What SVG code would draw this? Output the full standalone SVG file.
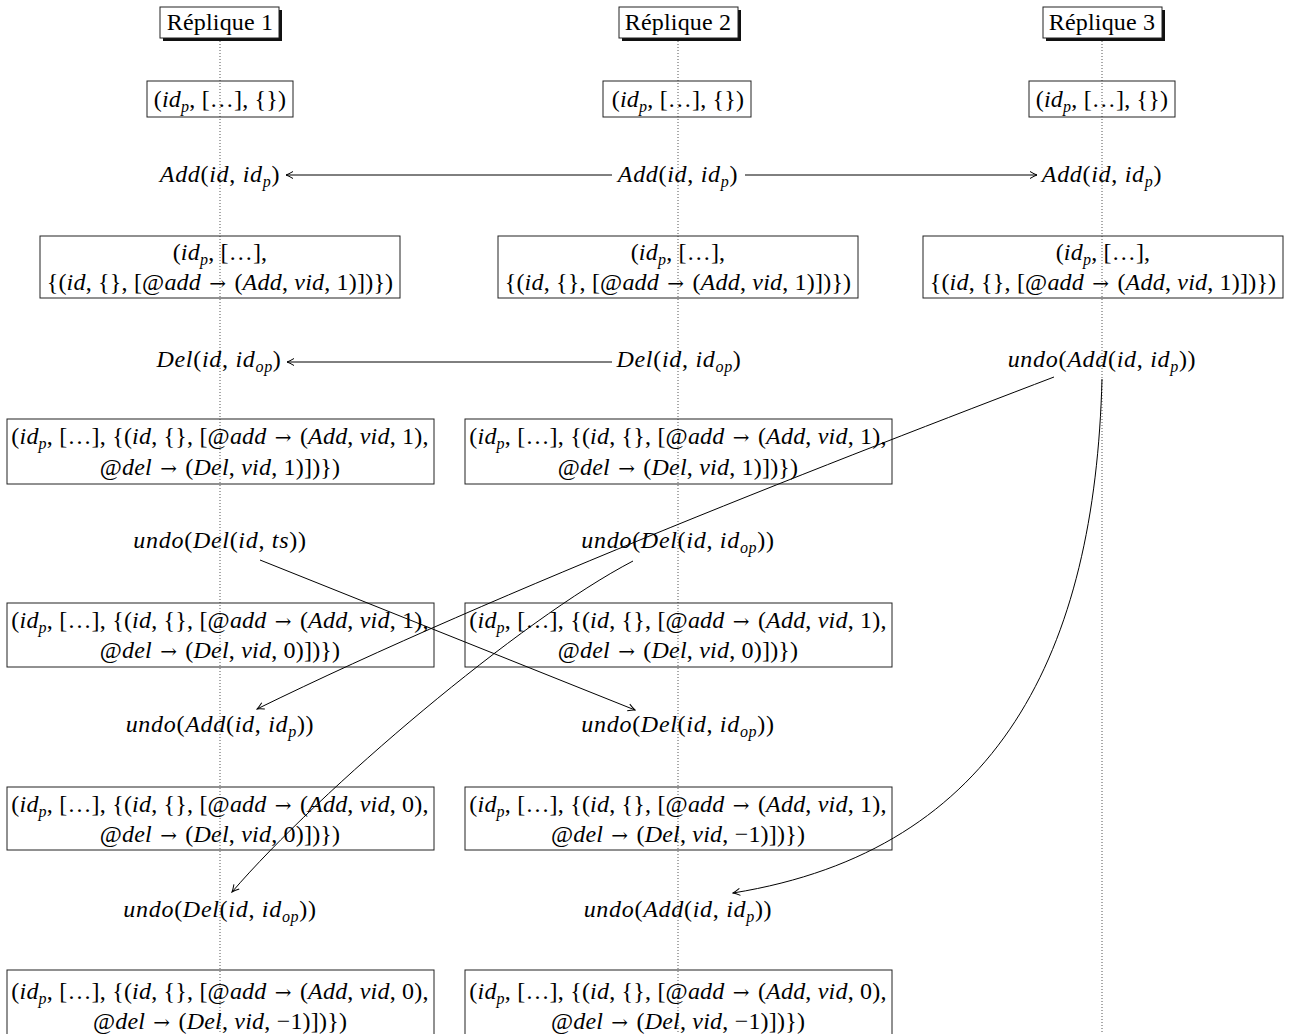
<svg xmlns="http://www.w3.org/2000/svg" width="1293" height="1034" viewBox="0 0 1293 1034">
<style>
text{font-family:"Liberation Serif",serif;font-size:24px;fill:#000;text-anchor:middle;letter-spacing:0.2px}
.lab{letter-spacing:0.7px}
.i{font-style:italic}
.sb{font-style:italic;font-size:16px}
.ar{font-family:"DejaVu Serif",serif;font-size:20px}
.box{fill:none;stroke:#222;stroke-width:1}
.hdr{fill:#fff;stroke:#222;stroke-width:1}
.sh{fill:#111}
.life{stroke:#555;stroke-width:1;stroke-dasharray:1 2}
.c{fill:none;stroke:#000;stroke-width:1}
</style>
<defs>
<marker id="ah" markerUnits="userSpaceOnUse" viewBox="-9 -5 10 10" markerWidth="10" markerHeight="10" refX="0" refY="0" orient="auto">
<path d="M-7,-3.5 Q-2.5,-0.8 0,0 Q-2.5,0.8 -7,3.5" fill="none" stroke="#000" stroke-width="1"/>
</marker>
</defs>
<rect width="1293" height="1034" fill="#fff"/>
<g id="lifelines">
<line class="life" x1="220" y1="38" x2="220" y2="1034"/>
<line class="life" x1="678" y1="38" x2="678" y2="1034"/>
<line class="life" x1="1102" y1="38" x2="1102" y2="1034"/>
</g>
<g id="h1"><rect class="sh" x="163" y="10" width="119" height="31"/><rect class="hdr" x="160" y="7" width="119" height="31"/><text x="220" y="30">Réplique 1</text></g>
<g id="h2"><rect class="sh" x="622" y="10" width="119" height="31"/><rect class="hdr" x="619" y="7" width="119" height="31"/><text x="678" y="30">Réplique 2</text></g>
<g id="h3"><rect class="sh" x="1046" y="10" width="119" height="31"/><rect class="hdr" x="1043" y="7" width="119" height="31"/><text x="1102" y="30">Réplique 3</text></g>

<g id="s1a"><rect class="box" x="147" y="81" width="146" height="36"/><text x="220" y="107">(<tspan class="i">id</tspan><tspan class="sb" dy="5">p</tspan><tspan dy="-5">, […], {})</tspan></text></g>
<g id="s2a"><rect class="box" x="603" y="81" width="148" height="36"/><text x="678" y="107">(<tspan class="i">id</tspan><tspan class="sb" dy="5">p</tspan><tspan dy="-5">, […], {})</tspan></text></g>
<g id="s3a"><rect class="box" x="1029" y="81" width="146" height="36"/><text x="1102" y="107">(<tspan class="i">id</tspan><tspan class="sb" dy="5">p</tspan><tspan dy="-5">, […], {})</tspan></text></g>

<g id="o1a"><text class="lab" x="220" y="182"><tspan class="i">Add</tspan>(<tspan class="i">id</tspan>, <tspan class="i">id</tspan><tspan class="sb" dy="5">p</tspan><tspan dy="-5">)</tspan></text></g>
<g id="o2a"><text class="lab" x="678" y="182"><tspan class="i">Add</tspan>(<tspan class="i">id</tspan>, <tspan class="i">id</tspan><tspan class="sb" dy="5">p</tspan><tspan dy="-5">)</tspan></text></g>
<g id="o3a"><text class="lab" x="1102" y="182"><tspan class="i">Add</tspan>(<tspan class="i">id</tspan>, <tspan class="i">id</tspan><tspan class="sb" dy="5">p</tspan><tspan dy="-5">)</tspan></text></g>

<g id="s1b"><rect class="box" x="40" y="236" width="360" height="62"/><text x="220" y="260">(<tspan class="i">id</tspan><tspan class="sb" dy="5">p</tspan><tspan dy="-5">, […],</tspan></text><text x="220" y="290">{(<tspan class="i">id</tspan>, {}, [@<tspan class="i">add</tspan> <tspan class="ar" dx="2">→</tspan> <tspan dx="2">(</tspan><tspan class="i">Add</tspan>, <tspan class="i">vid</tspan>, 1)])})</text></g>
<g id="s2b"><rect class="box" x="498" y="236" width="360" height="62"/><text x="678" y="260">(<tspan class="i">id</tspan><tspan class="sb" dy="5">p</tspan><tspan dy="-5">, […],</tspan></text><text x="678" y="290">{(<tspan class="i">id</tspan>, {}, [@<tspan class="i">add</tspan> <tspan class="ar" dx="2">→</tspan> <tspan dx="2">(</tspan><tspan class="i">Add</tspan>, <tspan class="i">vid</tspan>, 1)])})</text></g>
<g id="s3b"><rect class="box" x="923" y="236" width="360" height="62"/><text x="1103" y="260">(<tspan class="i">id</tspan><tspan class="sb" dy="5">p</tspan><tspan dy="-5">, […],</tspan></text><text x="1103" y="290">{(<tspan class="i">id</tspan>, {}, [@<tspan class="i">add</tspan> <tspan class="ar" dx="2">→</tspan> <tspan dx="2">(</tspan><tspan class="i">Add</tspan>, <tspan class="i">vid</tspan>, 1)])})</text></g>

<g id="o1b"><text class="lab" x="219" y="367"><tspan class="i">Del</tspan>(<tspan class="i">id</tspan>, <tspan class="i">id</tspan><tspan class="sb" dy="5">op</tspan><tspan dy="-5">)</tspan></text></g>
<g id="o2b"><text class="lab" x="679" y="367"><tspan class="i">Del</tspan>(<tspan class="i">id</tspan>, <tspan class="i">id</tspan><tspan class="sb" dy="5">op</tspan><tspan dy="-5">)</tspan></text></g>
<g id="o3b"><text class="lab" x="1102" y="367"><tspan class="i">undo</tspan>(<tspan class="i">Add</tspan>(<tspan class="i">id</tspan>, <tspan class="i">id</tspan><tspan class="sb" dy="5">p</tspan><tspan dy="-5">))</tspan></text></g>

<g id="s1c"><rect class="box" x="7" y="419" width="427" height="65"/><text x="220" y="444">(<tspan class="i">id</tspan><tspan class="sb" dy="5">p</tspan><tspan dy="-5">, […], {(</tspan><tspan class="i">id</tspan>, {}, [@<tspan class="i">add</tspan> <tspan class="ar" dx="2">→</tspan> <tspan dx="2">(</tspan><tspan class="i">Add</tspan>, <tspan class="i">vid</tspan>, 1),</text><text x="220" y="475">@<tspan class="i">del</tspan> <tspan class="ar" dx="2">→</tspan> <tspan dx="2">(</tspan><tspan class="i">Del</tspan>, <tspan class="i">vid</tspan>, 1)])})</text></g>
<g id="s2c"><rect class="box" x="465" y="419" width="427" height="65"/><text x="678" y="444">(<tspan class="i">id</tspan><tspan class="sb" dy="5">p</tspan><tspan dy="-5">, […], {(</tspan><tspan class="i">id</tspan>, {}, [@<tspan class="i">add</tspan> <tspan class="ar" dx="2">→</tspan> <tspan dx="2">(</tspan><tspan class="i">Add</tspan>, <tspan class="i">vid</tspan>, 1),</text><text x="678" y="475">@<tspan class="i">del</tspan> <tspan class="ar" dx="2">→</tspan> <tspan dx="2">(</tspan><tspan class="i">Del</tspan>, <tspan class="i">vid</tspan>, 1)])})</text></g>

<g id="o1c"><text class="lab" x="220" y="548"><tspan class="i">undo</tspan>(<tspan class="i">Del</tspan>(<tspan class="i">id</tspan>, <tspan class="i">ts</tspan>))</text></g>
<g id="o2c"><text class="lab" x="678" y="548"><tspan class="i">undo</tspan>(<tspan class="i">Del</tspan>(<tspan class="i">id</tspan>, <tspan class="i">id</tspan><tspan class="sb" dy="5">op</tspan><tspan dy="-5">))</tspan></text></g>

<g id="s1d"><rect class="box" x="7" y="603" width="427" height="64"/><text x="220" y="628">(<tspan class="i">id</tspan><tspan class="sb" dy="5">p</tspan><tspan dy="-5">, […], {(</tspan><tspan class="i">id</tspan>, {}, [@<tspan class="i">add</tspan> <tspan class="ar" dx="2">→</tspan> <tspan dx="2">(</tspan><tspan class="i">Add</tspan>, <tspan class="i">vid</tspan>, 1),</text><text x="220" y="658">@<tspan class="i">del</tspan> <tspan class="ar" dx="2">→</tspan> <tspan dx="2">(</tspan><tspan class="i">Del</tspan>, <tspan class="i">vid</tspan>, 0)])})</text></g>
<g id="s2d"><rect class="box" x="465" y="603" width="427" height="64"/><text x="678" y="628">(<tspan class="i">id</tspan><tspan class="sb" dy="5">p</tspan><tspan dy="-5">, […], {(</tspan><tspan class="i">id</tspan>, {}, [@<tspan class="i">add</tspan> <tspan class="ar" dx="2">→</tspan> <tspan dx="2">(</tspan><tspan class="i">Add</tspan>, <tspan class="i">vid</tspan>, 1),</text><text x="678" y="658">@<tspan class="i">del</tspan> <tspan class="ar" dx="2">→</tspan> <tspan dx="2">(</tspan><tspan class="i">Del</tspan>, <tspan class="i">vid</tspan>, 0)])})</text></g>

<g id="o1d"><text class="lab" x="220" y="732"><tspan class="i">undo</tspan>(<tspan class="i">Add</tspan>(<tspan class="i">id</tspan>, <tspan class="i">id</tspan><tspan class="sb" dy="5">p</tspan><tspan dy="-5">))</tspan></text></g>
<g id="o2d"><text class="lab" x="678" y="732"><tspan class="i">undo</tspan>(<tspan class="i">Del</tspan>(<tspan class="i">id</tspan>, <tspan class="i">id</tspan><tspan class="sb" dy="5">op</tspan><tspan dy="-5">))</tspan></text></g>

<g id="s1e"><rect class="box" x="7" y="787" width="427" height="63"/><text x="220" y="812">(<tspan class="i">id</tspan><tspan class="sb" dy="5">p</tspan><tspan dy="-5">, […], {(</tspan><tspan class="i">id</tspan>, {}, [@<tspan class="i">add</tspan> <tspan class="ar" dx="2">→</tspan> <tspan dx="2">(</tspan><tspan class="i">Add</tspan>, <tspan class="i">vid</tspan>, 0),</text><text x="220" y="842">@<tspan class="i">del</tspan> <tspan class="ar" dx="2">→</tspan> <tspan dx="2">(</tspan><tspan class="i">Del</tspan>, <tspan class="i">vid</tspan>, 0)])})</text></g>
<g id="s2e"><rect class="box" x="465" y="787" width="427" height="63"/><text x="678" y="812">(<tspan class="i">id</tspan><tspan class="sb" dy="5">p</tspan><tspan dy="-5">, […], {(</tspan><tspan class="i">id</tspan>, {}, [@<tspan class="i">add</tspan> <tspan class="ar" dx="2">→</tspan> <tspan dx="2">(</tspan><tspan class="i">Add</tspan>, <tspan class="i">vid</tspan>, 1),</text><text x="678" y="842">@<tspan class="i">del</tspan> <tspan class="ar" dx="2">→</tspan> <tspan dx="2">(</tspan><tspan class="i">Del</tspan>, <tspan class="i">vid</tspan>, −1)])})</text></g>

<g id="o1e"><text class="lab" x="220" y="917"><tspan class="i">undo</tspan>(<tspan class="i">Del</tspan>(<tspan class="i">id</tspan>, <tspan class="i">id</tspan><tspan class="sb" dy="5">op</tspan><tspan dy="-5">))</tspan></text></g>
<g id="o2e"><text class="lab" x="678" y="917"><tspan class="i">undo</tspan>(<tspan class="i">Add</tspan>(<tspan class="i">id</tspan>, <tspan class="i">id</tspan><tspan class="sb" dy="5">p</tspan><tspan dy="-5">))</tspan></text></g>

<g id="s1f"><rect class="box" x="7" y="970" width="427" height="70"/><text x="220" y="999">(<tspan class="i">id</tspan><tspan class="sb" dy="5">p</tspan><tspan dy="-5">, […], {(</tspan><tspan class="i">id</tspan>, {}, [@<tspan class="i">add</tspan> <tspan class="ar" dx="2">→</tspan> <tspan dx="2">(</tspan><tspan class="i">Add</tspan>, <tspan class="i">vid</tspan>, 0),</text><text x="220" y="1029">@<tspan class="i">del</tspan> <tspan class="ar" dx="2">→</tspan> <tspan dx="2">(</tspan><tspan class="i">Del</tspan>, <tspan class="i">vid</tspan>, −1)])})</text></g>
<g id="s2f"><rect class="box" x="465" y="970" width="427" height="70"/><text x="678" y="999">(<tspan class="i">id</tspan><tspan class="sb" dy="5">p</tspan><tspan dy="-5">, […], {(</tspan><tspan class="i">id</tspan>, {}, [@<tspan class="i">add</tspan> <tspan class="ar" dx="2">→</tspan> <tspan dx="2">(</tspan><tspan class="i">Add</tspan>, <tspan class="i">vid</tspan>, 0),</text><text x="678" y="1029">@<tspan class="i">del</tspan> <tspan class="ar" dx="2">→</tspan> <tspan dx="2">(</tspan><tspan class="i">Del</tspan>, <tspan class="i">vid</tspan>, −1)])})</text></g>

<g id="connectors">
<path class="c" d="M612,175 L286,175" marker-end="url(#ah)"/>
<path class="c" d="M745,175 L1037,175" marker-end="url(#ah)"/>
<path class="c" d="M612,362 L287,362" marker-end="url(#ah)"/>
<path class="c" d="M1054,377 C850,455 500,590 257,709" marker-end="url(#ah)"/>
<path class="c" d="M1102,379 C1095,650 1000,850 733,893" marker-end="url(#ah)"/>
<path class="c" d="M260,560 L635,710" marker-end="url(#ah)"/>
<path class="c" d="M633,561 C520,620 320,790 232,892" marker-end="url(#ah)"/>
</g>
</svg>
